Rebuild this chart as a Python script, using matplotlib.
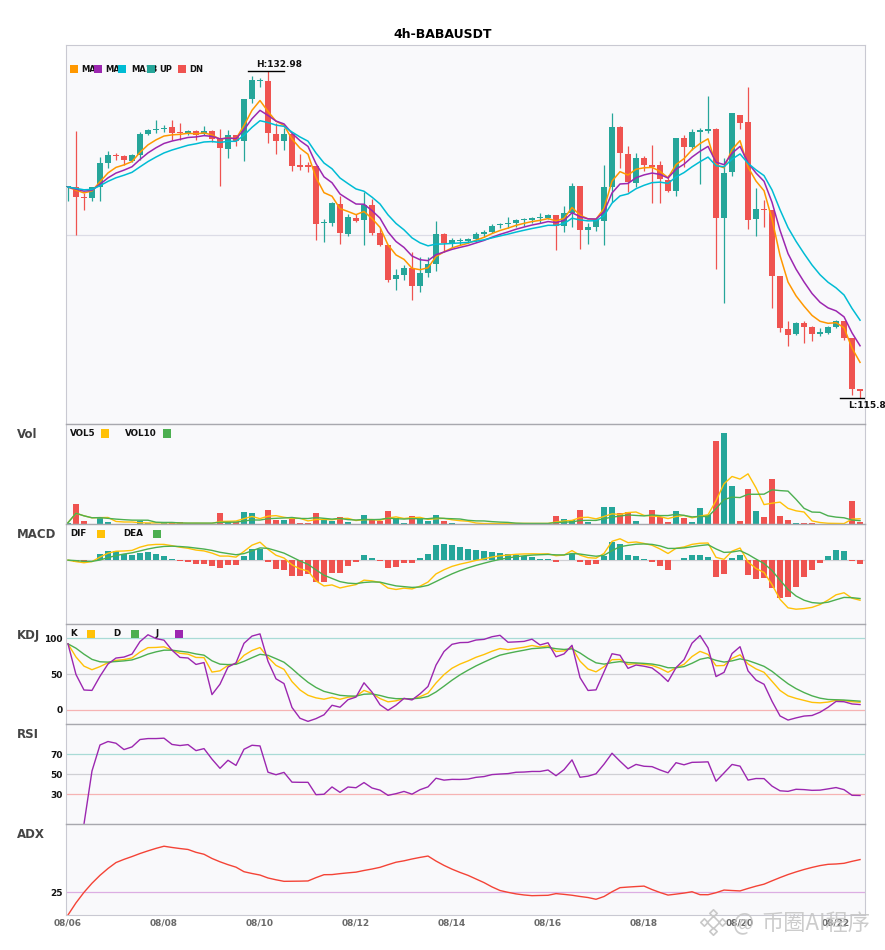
import matplotlib
matplotlib.use('Agg')
import matplotlib.pyplot as plt
from matplotlib.patches import Rectangle
import numpy as np
import pandas as pd

# ---- data (4h candles) ----
title = '4h-BABAUSDT'
start_time = '2025-08-06 00:00'

opens = [126.87, 126.88, 126.38, 126.30, 126.88, 128.14, 128.58, 128.53, 128.28, 128.58,
         129.69, 129.88, 129.95, 130.07, 129.75, 129.72, 129.84, 129.67, 129.84, 129.42,
         128.90, 129.63, 129.33, 131.53, 132.45, 132.48, 129.69, 129.33, 129.69, 128.00,
         128.00, 128.00, 124.98, 125.01, 126.00, 124.40, 125.24, 125.15, 125.94, 124.49,
         123.84, 122.05, 122.26, 122.61, 121.68, 122.38, 122.84, 124.42, 123.96, 124.05,
         124.05, 124.13, 124.42, 124.54, 124.87, 124.94, 125.01, 125.16, 125.16, 125.24,
         125.28, 125.42, 124.85, 125.51, 126.95, 124.63, 124.80, 125.10, 126.91, 130.07,
         128.63, 127.12, 128.44, 128.00, 128.05, 127.26, 126.70, 129.46, 129.02, 129.81,
         129.86, 129.95, 125.28, 127.70, 130.69, 130.33, 125.21, 125.73, 125.68, 122.20,
         119.43, 119.15, 119.71, 119.53, 119.17, 119.22, 119.53, 119.81, 118.95, 116.24]
highs = [126.95, 129.84, 126.56, 126.91, 128.49, 128.79, 128.67, 128.58, 128.63, 129.81,
         129.93, 130.42, 130.16, 130.42, 130.28, 129.90, 129.90, 130.11, 129.90, 129.95,
         129.90, 129.63, 131.53, 132.74, 132.62, 132.98, 130.25, 129.99, 129.81, 128.62,
         128.23, 128.00, 125.19, 126.12, 126.42, 125.47, 125.47, 126.65, 126.24, 124.72,
         123.84, 122.57, 122.78, 123.48, 123.22, 123.19, 125.10, 124.49, 124.19, 124.19,
         124.22, 124.51, 124.63, 124.94, 124.98, 125.33, 125.21, 125.28, 125.33, 125.51,
         125.47, 125.42, 125.89, 127.09, 126.95, 124.98, 125.24, 128.05, 130.81, 130.12,
         129.05, 128.70, 128.53, 129.11, 128.26, 127.53, 129.46, 129.63, 129.93, 129.99,
         131.69, 130.02, 128.41, 130.78, 130.69, 132.18, 126.86, 126.21, 125.68, 122.20,
         119.83, 119.76, 119.83, 119.58, 119.45, 119.58, 119.89, 119.81, 118.95, 116.24]
lows = [126.18, 124.36, 125.68, 126.17, 126.17, 127.88, 128.32, 128.06, 128.23, 128.32,
        129.63, 129.76, 129.81, 129.37, 129.37, 129.63, 129.37, 129.63, 129.28, 126.95,
        128.44, 129.05, 128.28, 131.34, 132.18, 129.20, 128.63, 128.84, 127.74, 127.79,
        127.70, 124.10, 124.01, 124.85, 123.87, 124.33, 125.06, 123.84, 124.36, 123.80,
        121.90, 121.47, 121.99, 120.94, 121.38, 122.17, 122.48, 123.48, 123.75, 123.84,
        123.96, 124.01, 124.24, 124.45, 124.72, 124.72, 124.80, 124.85, 124.98, 124.98,
        125.19, 123.57, 124.54, 124.80, 123.63, 123.89, 124.59, 123.84, 126.12, 127.88,
        126.65, 126.91, 127.74, 126.03, 126.07, 126.65, 126.42, 127.96, 128.84, 127.05,
        129.72, 122.57, 120.80, 127.47, 129.95, 124.68, 124.31, 124.80, 120.50, 119.27,
        118.51, 119.09, 118.69, 118.79, 119.04, 119.15, 119.45, 118.83, 115.93, 115.80]
closes = [126.89, 126.39, 126.30, 126.88, 128.14, 128.56, 128.51, 128.32, 128.58, 129.69,
          129.90, 129.90, 129.98, 129.76, 129.72, 129.84, 129.63, 129.84, 129.42, 128.96,
          129.63, 129.33, 131.53, 132.53, 132.48, 129.72, 129.33, 129.69, 128.00, 127.97,
          127.97, 124.94, 125.00, 126.03, 124.45, 125.30, 125.10, 125.94, 124.49, 123.84,
          121.99, 122.26, 122.61, 121.68, 122.38, 122.84, 124.42, 123.96, 124.10, 124.08,
          124.15, 124.42, 124.54, 124.84, 124.92, 124.98, 125.16, 125.19, 125.26, 125.26,
          125.42, 124.85, 125.51, 126.95, 124.63, 124.80, 125.16, 126.91, 130.07, 128.70,
          127.17, 128.44, 128.05, 127.97, 127.30, 126.70, 129.46, 129.02, 129.78, 129.84,
          129.93, 125.28, 127.62, 130.78, 130.28, 125.15, 125.73, 125.68, 122.20, 119.45,
          119.09, 119.71, 119.53, 119.15, 119.20, 119.50, 119.81, 118.95, 116.25, 116.16]
volumes = [1300, 20000, 3000, 300, 7000, 2000, 300, 300, 300, 3300,
           1000, 300, 600, 600, 1600, 600, 300, 300, 300, 11000,
           1600, 1600, 12000, 11000, 300, 14000, 4000, 4000, 5300, 1000,
           1000, 11000, 4600, 3300, 7000, 2000, 300, 9000, 4000, 3300,
           13000, 6000, 1000, 8000, 5000, 3000, 9000, 3000, 1000, 300,
           300, 300, 300, 1300, 300, 300, 1000, 300, 1000, 300,
           300, 8300, 5000, 4000, 14000, 2000, 300, 17000, 17000, 10700,
           11700, 3000, 300, 14000, 7300, 2300, 13000, 6000, 2000, 16000,
           9000, 82300, 90000, 38000, 3000, 35000, 13000, 7000, 45000, 8300,
           4000, 1000, 1000, 1000, 300, 300, 300, 300, 23000, 2000]

UP = '#26a69a'
DN = '#ef5350'
ORANGE = '#ff9800'
PURPLE = '#9c27b0'
CYAN = '#00bcd4'
YELLOW = '#ffc107'
GREEN = '#4caf50'
BG = '#f9f9fb'

df = pd.DataFrame({'open': opens, 'high': highs, 'low': lows,
                   'close': closes, 'volume': volumes})
df.index = pd.date_range(start_time, periods=len(df), freq='4h')
n = len(df)
x = np.arange(n)
is_up = (df['close'] >= df['open']).values
colors = np.where(is_up, UP, DN)

# ---- indicators ----
ema5 = df['close'].ewm(span=5, adjust=False).mean()
ema8 = df['close'].ewm(span=8, adjust=False).mean()
ema13 = df['close'].ewm(span=13, adjust=False).mean()

vol5 = df['volume'].rolling(5, min_periods=1).mean()
vol10 = df['volume'].rolling(10, min_periods=1).mean()

# fast MACD (6, 13, 5)
dif = df['close'].ewm(span=6, adjust=False).mean() - df['close'].ewm(span=13, adjust=False).mean()
dea = dif.ewm(span=5, adjust=False).mean()
hist = 2 * (dif - dea)

low9 = df['low'].rolling(9, min_periods=1).min()
high9 = df['high'].rolling(9, min_periods=1).max()
rsv = (df['close'] - low9) / (high9 - low9) * 100
k = rsv.ewm(com=2, adjust=False).mean()
d = k.ewm(com=2, adjust=False).mean()
j = 3 * k - 2 * d

delta = df['close'].diff()
gain = delta.clip(lower=0)
loss = (-delta).clip(lower=0)
avg_gain = gain.ewm(com=13, adjust=True, min_periods=2).mean()
avg_loss = loss.ewm(com=13, adjust=True, min_periods=2).mean()
rsi = 100 * avg_gain / (avg_gain + avg_loss)

prev_close = df['close'].shift()
tr = pd.concat([df['high'] - df['low'], (df['high'] - prev_close).abs(),
                (df['low'] - prev_close).abs()], axis=1).max(axis=1)
up_move = df['high'].diff()
down_move = -df['low'].diff()
pdm = pd.Series(np.where((up_move > down_move) & (up_move > 0), up_move, 0.0), index=df.index)
mdm = pd.Series(np.where((down_move > up_move) & (down_move > 0), down_move, 0.0), index=df.index)
atr = tr.ewm(span=17, adjust=False).mean()
pdi = 100 * pdm.ewm(span=17, adjust=False).mean() / atr
mdi = 100 * mdm.ewm(span=17, adjust=False).mean() / atr
dx = (100 * (pdi - mdi).abs() / (pdi + mdi)).fillna(0)
adx = dx.ewm(span=14, adjust=False).mean()

# ---- figure layout (pixel based) ----
W, H = 885, 950
fig = plt.figure(figsize=(W / 100, H / 100), dpi=100)


def fx(px):
    return px / W


def fy(py):
    return 1 - py / H


def panel(top, bottom):
    return fig.add_axes([fx(65.5), fy(bottom), fx(865 - 65.5), (bottom - top) / H])


ax_main = panel(45, 424)
ax_vol = panel(424, 524)
ax_macd = panel(524, 624)
ax_kdj = panel(624, 724)
ax_rsi = panel(724, 824)
ax_adx = panel(824, 915)
axes = [ax_main, ax_vol, ax_macd, ax_kdj, ax_rsi, ax_adx]

for i, ax in enumerate(axes):
    ax.set_facecolor(BG)
    ax.set_xlim(-0.31, n - 1 + 0.62)
    for side in ['left', 'right', 'bottom']:
        ax.spines[side].set_color('#c9c9d2')
        ax.spines[side].set_linewidth(0.8)
    ax.spines['top'].set_color('#c9c9d2' if i == 0 else '#a8a8ae')
    ax.spines['top'].set_linewidth(0.8 if i == 0 else 1.0)
    ax.tick_params(length=0)
    ax.set_xticks([])
    ax.set_yticks([])

# ---- main candles ----
lo, hi = df['low'].min(), df['high'].max()
rng = hi - lo
body_lo = np.minimum(df['open'], df['close']).values
body_h = np.maximum(np.abs(df['close'] - df['open']).values, rng * 0.004)
ax_main.vlines(x, df['low'], df['high'], color=colors, lw=0.9, zorder=2)
ax_main.bar(x, body_h, bottom=body_lo, width=0.75, color=colors, zorder=3)
ax_main.plot(x, ema5, color=ORANGE, lw=1.1, zorder=4)
ax_main.plot(x, ema8, color=PURPLE, lw=1.1, zorder=4)
ax_main.plot(x, ema13, color=CYAN, lw=1.1, zorder=4)
pad = rng * 0.081
ax_main.set_ylim(lo - pad, hi + pad)
ax_main.axhline((hi + lo) / 2, color='#dcdce6', lw=0.9, zorder=0)

i_hi = int(df['high'].values.argmax())
i_lo = int(df['low'].values.argmin())
ax_main.plot([i_hi - 2.5, i_hi + 2], [hi, hi], color='black', lw=1.0, zorder=5)
ax_main.annotate(f'H:{round(hi, 2)}', xy=(i_hi - 1.5, hi), xytext=(0, 1.5),
                 textcoords='offset points', ha='left', va='bottom',
                 fontsize=6.5, fontweight='bold', color='#111')
ax_main.plot([i_lo - 2.5, i_lo + 2], [lo, lo], color='black', lw=1.0, zorder=5)
ax_main.annotate(f'L:{round(lo, 2)}', xy=(i_lo - 1.5, lo), xytext=(0, -2.5),
                 textcoords='offset points', ha='left', va='top',
                 fontsize=6.5, fontweight='bold', color='#111', annotation_clip=False)

# ---- volume ----
ax_vol.bar(x, df['volume'], width=0.75, color=colors, zorder=2)
ax_vol.plot(x, vol5, color=YELLOW, lw=1.0, zorder=3)
ax_vol.plot(x, vol10, color=GREEN, lw=1.0, zorder=3)
ax_vol.set_ylim(0, df['volume'].max() * 1.1)

# ---- MACD ----
ax_macd.axhline(0, color='#d0d0d4', lw=0.9, zorder=0)
ax_macd.bar(x, hist, width=0.78, color=np.where(hist >= 0, UP, DN), zorder=2)
ax_macd.plot(x, dif, color=YELLOW, lw=1.0, zorder=3)
ax_macd.plot(x, dea, color=GREEN, lw=1.0, zorder=3)
mvals = pd.concat([dif, dea, hist])
mpad = (mvals.max() - mvals.min()) * 0.21
ax_macd.set_ylim(mvals.min() - mpad, mvals.max() + mpad)

# ---- KDJ ----
for lvl, c in [(100, '#a9dbd6'), (50, '#d0d0d4'), (0, '#f6b3b3')]:
    ax_kdj.axhline(lvl, color=c, lw=0.9, zorder=0)
ax_kdj.plot(x, k, color=YELLOW, lw=1.0)
ax_kdj.plot(x, d, color=GREEN, lw=1.0)
ax_kdj.plot(x, j, color=PURPLE, lw=1.0)
ax_kdj.set_ylim(-20, 120)
ax_kdj.set_yticks([0, 50, 100])

# ---- RSI ----
for lvl, c in [(70, '#a9dbd6'), (50, '#d0d0d4'), (30, '#f6b3b3')]:
    ax_rsi.axhline(lvl, color=c, lw=0.9, zorder=0)
ax_rsi.plot(x, rsi, color=PURPLE, lw=1.0)
ax_rsi.set_ylim(0, 100)
ax_rsi.set_yticks([30, 50, 70])

# ---- ADX ----
ax_adx.axhline(25, color='#dcaee3', lw=0.9, zorder=0)
ax_adx.plot(x, adx, color='#f44336', lw=1.0)
ax_adx.set_ylim(0, 100)
ax_adx.set_yticks([25])

for ax in [ax_kdj, ax_rsi, ax_adx]:
    ax.tick_params(axis='y', length=0, pad=2, labelsize=6.5, labelcolor='#111')
    for lbl in ax.get_yticklabels():
        lbl.set_fontweight('bold')

tick_pos = [i for i, t in enumerate(df.index) if t.hour == 0 and t.day % 2 == 0]
ax_adx.set_xticks(tick_pos)
ax_adx.set_xticklabels([df.index[i].strftime('%m/%d') for i in tick_pos],
                       fontsize=6.5, fontweight='bold', color='#6a6a6a')
ax_adx.tick_params(axis='x', length=0, pad=2.5)

# ---- texts / legends ----
fig.text(fx(443), fy(34), title, ha='center', va='center', fontsize=9, fontweight='bold')

for label, py in [('Vol', 435), ('MACD', 534.5), ('KDJ', 635), ('RSI', 734.5), ('ADX', 834.5)]:
    fig.text(fx(17), fy(py), label, ha='left', va='center', fontsize=8.5,
             fontweight='bold', color='#444')


def legend_square(px, py, color, z):
    fig.add_artist(Rectangle((fx(px), fy(py + 4)), fx(8), 8 / H, transform=fig.transFigure,
                             facecolor=color, edgecolor='none', zorder=z))


def legend_text(px, py, s, z, size=6.3):
    fig.text(fx(px), fy(py), s, ha='left', va='center', fontsize=size,
             fontweight='bold', color='#111', zorder=z)


# main legend: each square is drawn over the previous (too long) label
main_items = [(70, ORANGE, 81, 'MA5'), (94, PURPLE, 105, 'MA8'), (118, CYAN, 131, 'MA13'),
              (147, UP, 159, 'UP'), (178, DN, 189, 'DN')]
z = 5
for sq_x, c, tx, s in main_items:
    legend_square(sq_x, 69, c, z)
    legend_text(tx, 69, s, z + 1, size=6.0)
    z += 2

for tx, s, sq_x, c in [(70, 'VOL5', 101, YELLOW), (125, 'VOL10', 163, GREEN)]:
    legend_text(tx, 433.5, s, 5)
    legend_square(sq_x, 433.5, c, 6)

for tx, s, sq_x, c in [(70, 'DIF', 97, YELLOW), (123, 'DEA', 153, GREEN)]:
    legend_text(tx, 533.5, s, 5)
    legend_square(sq_x, 533.5, c, 6)

for tx, s, sq_x, c in [(70, 'K', 87, YELLOW), (113, 'D', 131, GREEN), (156, 'J', 175, PURPLE)]:
    legend_text(tx, 633.5, s, 5)
    legend_square(sq_x, 633.5, c, 6)

# watermark
logo = fig.add_axes([fx(699), fy(937), fx(29), 29 / H])
logo.axis('off')
logo.scatter([0, -1, 1, 0, 0], [0, 0, 0, 1, -1], marker='D', s=[40, 14, 14, 14, 14],
             facecolors='none', edgecolors='#c8c8c8', linewidths=1.2)
logo.set_xlim(-1.6, 1.6)
logo.set_ylim(-1.6, 1.6)
cjk = ['Noto Sans CJK SC', 'DejaVu Sans']
fig.text(fx(733), fy(923), '@', ha='left', va='center', fontsize=16,
         color='#c4c4c4', alpha=0.85, family=cjk)
fig.text(fx(761), fy(923), '币圈AI程序', ha='left', va='center', fontsize=16,
         color='#c4c4c4', alpha=0.85, family=cjk)

fig.savefig('out.png', dpi=100)
